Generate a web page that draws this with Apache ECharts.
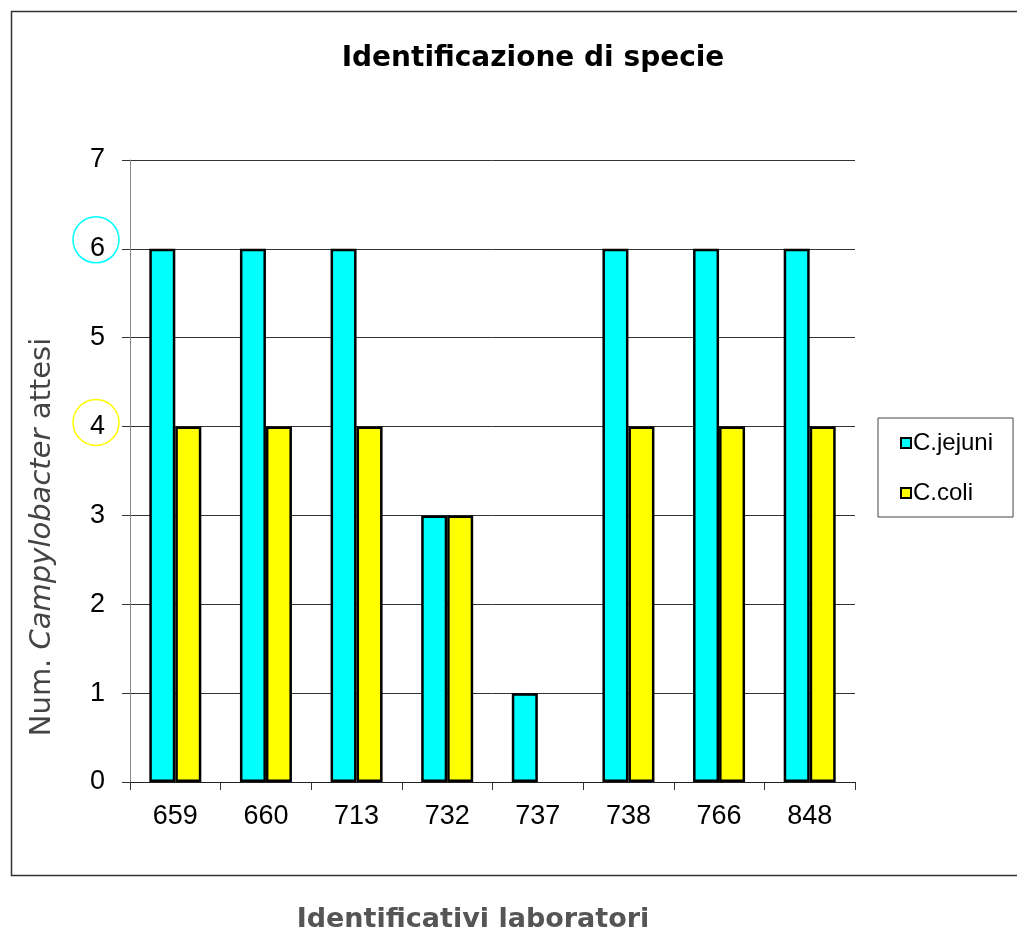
<!DOCTYPE html>
<html>
<head>
<meta charset="utf-8">
<script src="https://cdn.jsdelivr.net/npm/echarts@6/dist/echarts.min.js"></script>
<style>
html,body{margin:0;padding:0;background:#fff;}
#chart{width:1017px;height:933px;}
</style>
</head>
<body>
<div id="chart"></div>
<script>
var categories = ['659','660','713','732','737','738','766','848'];
var jejuni = [6,6,6,3,1,6,6,6];
var coli = [4,4,4,3,null,4,4,4];
var yTicks = [0,1,2,3,4,5,6,7];
var circledTicks = [{value: 6, color: '#00FFFF', dy: -9}, {value: 4, color: '#FFFF00', dy: -4}];

var gridLeft = 130, gridRight = 162, gridTop = 160, gridBottom = 151;

var chart = echarts.init(document.getElementById('chart'));
var frame = {type: 'rect', left: 9, top: 9, shape: {width: 1020, height: 864}, silent: true, z: -1,
  style: {fill: 'none', stroke: '#333', lineWidth: 1.5}};
var yName = {type: 'text', x: 42, y: 537, rotation: Math.PI / 2, silent: true,
  style: {
    text: '{a|Num. }{b|Campylobacter}{a| attesi}',
    align: 'center', verticalAlign: 'middle',
    rich: {
      a: {fontFamily: 'DejaVu Sans', fontSize: 29, fill: '#444', color: '#444'},
      b: {fontFamily: 'DejaVu Sans', fontSize: 29, fontStyle: 'italic', fill: '#444', color: '#444'}
    }
  }};
var xName = {type: 'text', x: 473, y: 920, silent: true,
  style: {text: 'Identificativi laboratori', align: 'center', verticalAlign: 'middle',
    fontFamily: 'DejaVu Sans', fontWeight: 'bold', fontSize: 27, fill: '#555'}};

var option = {
  backgroundColor: '#fff',
  animation: false,
  title: {
    text: 'Identificazione di specie',
    left: 528, top: 40, textAlign: 'center',
    textStyle: {fontFamily: 'DejaVu Sans', fontWeight: 'bold', fontSize: 28, color: '#000'}
  },
  legend: {
    orient: 'vertical',
    left: 878, top: 418,
    padding: [13, 20, 12, 22],
    itemWidth: 10, itemHeight: 10, itemGap: 26,
    borderColor: '#444', borderWidth: 1,
    icon: 'rect',
    textStyle: {fontFamily: 'Liberation Sans', fontSize: 24, color: '#000', padding: [0,0,0,-3]},
    data: ['C.jejuni', 'C.coli']
  },
  grid: {left: gridLeft, right: gridRight, top: gridTop, bottom: gridBottom, containLabel: false},
  xAxis: {
    type: 'category',
    data: categories,
    axisLine: {lineStyle: {color: '#222', width: 1}},
    axisTick: {show: true, length: 8, inside: false, lineStyle: {color: '#333'}},
    axisLabel: {fontFamily: 'Liberation Sans', fontSize: 27, color: '#000', margin: 21}
  },
  yAxis: {
    type: 'value',
    min: 0, max: 7, interval: 1,
    axisLine: {show: true, lineStyle: {color: '#888', width: 1}},
    axisTick: {show: true, length: 8, lineStyle: {color: '#333'}},
    splitLine: {show: true, lineStyle: {color: '#333', width: 1}},
    axisLabel: {fontFamily: 'Liberation Sans', fontSize: 27, color: '#000', margin: 25,
      formatter: function(v){ return yTicks.indexOf(v) >= 0 ? String(v) : ''; }}
  },
  series: [
    {name: 'C.jejuni', type: 'bar', data: jejuni, barWidth: 26, barGap: '0%',
     itemStyle: {color: '#00FFFF', borderColor: '#000', borderWidth: 2.5}},
    {name: 'C.coli', type: 'bar', data: coli, barWidth: 26,
     itemStyle: {color: '#FFFF00', borderColor: '#000', borderWidth: 2.5}}
  ],
  graphic: [frame, yName, xName]
};
chart.setOption(option);

// annotation circles around the highlighted tick labels
var graphics = [frame, yName, xName];
circledTicks.forEach(function (t) {
  var py = chart.convertToPixel({yAxisIndex: 0}, t.value);
  graphics.push({type: 'circle', shape: {cx: gridLeft - 34, cy: py + t.dy, r: 23}, silent: true,
    style: {fill: 'none', stroke: t.color, lineWidth: 1.5}});
});
chart.setOption({graphic: graphics}, {replaceMerge: ['graphic']});
</script>
</body>
</html>
